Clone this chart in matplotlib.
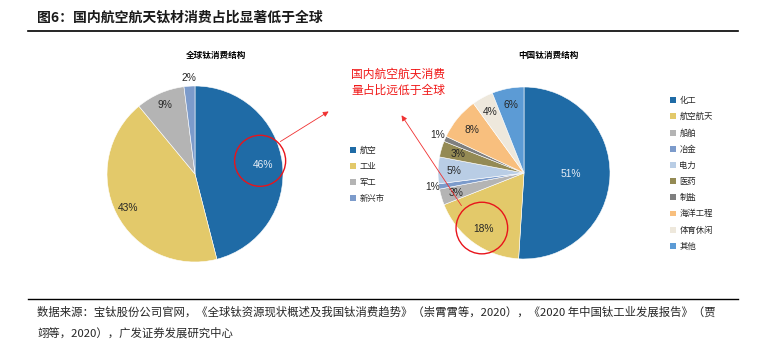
import numpy as np
import matplotlib
matplotlib.use("Agg")
import matplotlib.pyplot as plt
from matplotlib.patches import Circle, FancyArrowPatch
from matplotlib.lines import Line2D

plt.rcParams['font.family'] = ['Noto Sans CJK SC', 'DejaVu Sans']

# data
global_labels = ["航空", "工业", "军工", "新兴市"]
global_values = [46, 43, 9, 2]
global_colors = ["#1F6BA6", "#E3C96A", "#B4B4B4", "#7C9BCB"]

china_labels = ["化工", "航空航天", "船舶", "冶金", "电力", "医药", "制盐", "海洋工程", "体育休闲", "其他"]
china_values = [51, 18, 3, 1, 5, 3, 1, 8, 4, 6]
china_colors = ["#1F6BA6", "#E3C96A", "#B4B4B4", "#7C9BCB", "#B9CDE5",
                "#948A54", "#7F7F7F", "#F8BF7E", "#EEE8DC", "#5C9BD5"]

W, H = 761, 346


def fx(x):
    return x / W


def fy(y):
    return 1 - y / H


fig = plt.figure(figsize=(W / 100, H / 100), dpi=100)


def draw_pie(cx, cy, r, values, colors, dists, light_first):
    ax = fig.add_axes([fx(cx - r), fy(cy + r), 2 * r / W, 2 * r / H])
    wedges, _ = ax.pie(values, colors=colors, startangle=90, counterclock=False,
                       wedgeprops=dict(edgecolor="white", linewidth=0.4))
    for i, (w, v) in enumerate(zip(wedges, values)):
        ang = np.deg2rad((w.theta1 + w.theta2) / 2)
        col = "#E8EEF6" if (i == 0 and light_first) else "#262626"
        ax.text(dists[i] * np.cos(ang), dists[i] * np.sin(ang), f"{v}%",
                ha="center", va="center", fontsize=7.4, color=col,
                family=["Liberation Sans"])
    ax.set_xlim(-1, 1)
    ax.set_ylim(-1, 1)
    ax.set_aspect("equal")
    ax.axis("off")
    return ax, wedges


ax1, w1 = draw_pie(195, 174, 88, global_values, global_colors,
                   [0.78, 0.86, 0.86, 1.09], True)
ax2, w2 = draw_pie(524, 173, 86, china_values, china_colors,
                   [0.55, 0.80, 0.82, 1.07, 0.82, 0.80, 1.1, 0.79, 0.81, 0.81], True)

# red circles
ax1.add_patch(Circle((0.74, 0.15), 0.29, fill=False, edgecolor="#E8141B",
                     linewidth=1.0, clip_on=False))
ax2.add_patch(Circle((-0.49, -0.64), 0.30, fill=False, edgecolor="#E8141B",
                     linewidth=1.0, clip_on=False))

# arrows
for (x0, y0), (x1, y1) in [((278, 143), (331, 110)), ((463, 208), (400, 113))]:
    fig.add_artist(FancyArrowPatch((fx(x0), fy(y0)), (fx(x1), fy(y1)),
                                   transform=fig.transFigure, arrowstyle="-|>",
                                   mutation_scale=8, color="#F03030", linewidth=0.6))

fig.text(fx(351), fy(82), "国内航空航天消费\n量占比远低于全球", color="#F01818",
         fontsize=8.5, ha="left", va="center", linespacing=1.35)

# legends
leg1 = fig.legend(w1, global_labels, loc="upper left", bbox_to_anchor=(fx(346), fy(142)),
                  frameon=False, fontsize=6, handlelength=0.7, handleheight=0.7,
                  handletextpad=0.4, labelspacing=0.83, borderpad=0)
leg2 = fig.legend(w2, china_labels, loc="upper left", bbox_to_anchor=(fx(666), fy(92)),
                  frameon=False, fontsize=6, handlelength=0.7, handleheight=0.7,
                  handletextpad=0.4, labelspacing=0.86, borderpad=0)
for leg in (leg1, leg2):
    for p in leg.get_patches():
        p.set_edgecolor("none")
    for t in leg.get_texts():
        t.set_color("#262626")

# titles
fig.text(fx(37), fy(18), "图6：国内航空航天钛材消费占比显著低于全球", fontsize=10,
         fontweight="bold", ha="left", va="center", color="#1A1A1A")
fig.text(fx(216), fy(55), "全球钛消费结构", fontsize=6.2, fontweight="bold",
         ha="center", va="center")
fig.text(fx(548), fy(55), "中国钛消费结构", fontsize=6.2, fontweight="bold",
         ha="center", va="center")

fig.add_artist(Line2D([fx(28), fx(738)], [fy(31), fy(31)], color="black", linewidth=1.2))
fig.add_artist(Line2D([fx(28), fx(738)], [fy(299), fy(299)], color="black", linewidth=1.0))

fig.text(fx(37), fy(312),
         "数据来源：宝钛股份公司官网，《全球钛资源现状概述及我国钛消费趋势》（崇霄霄等，2020），《2020 年中国钛工业发展报告》（贾",
         fontsize=8.2, ha="left", va="center", color="#262626")
fig.text(fx(37), fy(333), "翊等，2020），广发证券发展研究中心",
         fontsize=8.2, ha="left", va="center", color="#262626")

fig.savefig("out.png", dpi=100)
